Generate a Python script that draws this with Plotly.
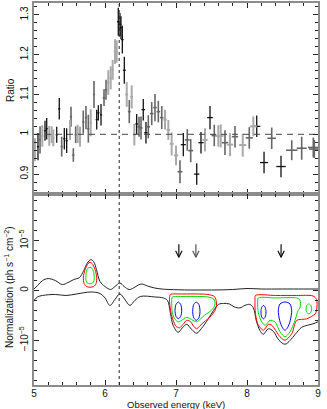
import plotly.graph_objects as go
from plotly.subplots import make_subplots

# ---- top panel: data/model ratio (energy keV, ratio, 1-sigma, half bin width, shade)
energy = [5.014, 5.056, 5.085, 5.117, 5.155, 5.179, 5.215, 5.249, 5.272, 5.32,
          5.356, 5.39, 5.427, 5.46, 5.507, 5.521, 5.554, 5.587, 5.615, 5.648,
          5.694, 5.732, 5.765, 5.799, 5.845, 5.883, 5.906, 5.944, 5.986, 6.014,
          6.046, 6.08, 6.108, 6.141, 6.165, 6.187, 6.211, 6.225, 6.244, 6.272,
          6.306, 6.342, 6.376, 6.413, 6.446, 6.479, 6.507, 6.539, 6.577, 6.61,
          6.658, 6.704, 6.751, 6.799, 6.845, 6.892, 6.939, 7.0, 7.056, 7.103,
          7.159, 7.207, 7.292, 7.352, 7.408, 7.479, 7.539, 7.596, 7.63, 7.69,
          7.761, 7.831, 7.94, 8.032, 8.089, 8.137, 8.24, 8.348, 8.479, 8.63,
          8.77, 8.934, 8.948]
ratio = [0.961, 0.969, 0.986, 0.996, 1.009, 1.014, 0.996, 0.999, 0.991, 0.999,
         1.064, 0.969, 0.989, 0.984, 1.011, 1.044, 0.948, 0.999, 1.001, 0.994,
         1.031, 1.042, 1.014, 1.029, 1.100, 1.037, 1.054, 1.049, 1.092, 1.112,
         1.130, 1.142, 1.162, 1.208, 1.208, 1.283, 1.276, 1.268, 1.238, 1.161,
         1.100, 1.057, 1.094, 0.999, 1.026, 1.019, 1.016, 1.062, 1.004, 1.019,
         1.052, 1.067, 1.057, 1.042, 1.037, 1.011, 0.976, 0.947, 0.906, 0.974,
         0.986, 0.959, 0.900, 0.979, 0.986, 1.042, 0.997, 0.996, 0.996, 0.979,
         0.974, 0.994, 0.973, 0.991, 1.020, 1.020, 0.929, 0.990, 0.919, 0.960,
         0.965, 0.967, 0.963]
ratio_err = [0.029, 0.034, 0.034, 0.027, 0.025, 0.027, 0.025, 0.021, 0.021, 0.020,
             0.027, 0.025, 0.027, 0.031, 0.025, 0.025, 0.017, 0.021, 0.023, 0.025,
             0.029, 0.029, 0.035, 0.034, 0.034, 0.025, 0.019, 0.027, 0.021, 0.025,
             0.031, 0.029, 0.025, 0.031, 0.028, 0.035, 0.029, 0.029, 0.035, 0.034,
             0.031, 0.029, 0.029, 0.027, 0.025, 0.025, 0.029, 0.027, 0.027, 0.029,
             0.029, 0.034, 0.027, 0.029, 0.025, 0.025, 0.029, 0.025, 0.029, 0.029,
             0.027, 0.029, 0.027, 0.027, 0.029, 0.029, 0.027, 0.027, 0.029, 0.031,
             0.029, 0.027, 0.029, 0.027, 0.025, 0.027, 0.027, 0.027, 0.027, 0.025,
             0.029, 0.025, 0.023]
bin_half = [0.015, 0.015, 0.015, 0.015, 0.015, 0.015, 0.015, 0.015, 0.015, 0.015,
            0.015, 0.015, 0.015, 0.015, 0.015, 0.015, 0.015, 0.015, 0.015, 0.015,
            0.015, 0.015, 0.015, 0.015, 0.015, 0.015, 0.015, 0.015, 0.018, 0.018,
            0.018, 0.018, 0.018, 0.018, 0.018, 0.018, 0.018, 0.018, 0.018, 0.02,
            0.02, 0.02, 0.02, 0.02, 0.02, 0.022, 0.022, 0.025, 0.025, 0.025,
            0.025, 0.025, 0.025, 0.025, 0.025, 0.025, 0.028, 0.03, 0.035, 0.035,
            0.035, 0.035, 0.037, 0.037, 0.037, 0.04, 0.04, 0.04, 0.04, 0.045,
            0.045, 0.045, 0.05, 0.05, 0.05, 0.05, 0.057, 0.06, 0.066, 0.08,
            0.07, 0.075, 0.075]
shade = list("lkmlkklllkkmkklmmmllmmmlmkkkmmlllllkkkkklmllkmmkkmmmmmllllmkmmkklkmllml"
             "mlmlkkmkmmmm")

# ---- bottom panel: confidence contours, normalization in units of 1e-5 ph/s/cm2
upper_e = [5.0, 5.05, 5.12, 5.2, 5.3, 5.4, 5.48, 5.56, 5.64, 5.7, 5.75, 5.8, 5.84,
           5.88, 5.93, 6.0, 6.08, 6.14, 6.21, 6.27, 6.34, 6.4, 6.47, 6.52, 6.6,
           6.7, 6.8, 6.9, 7.2, 7.5, 7.8, 8.0, 8.2, 8.5, 8.8, 9.0]
upper_n = [0.03, 0.1, 0.2, 0.24, 0.2, 0.12, 0.16, 0.22, 0.26, 0.4, 0.55, 0.62, 0.58,
           0.42, 0.18, 0.08, 0.02, 0.08, 0.15, 0.08, 0.02, 0.05, 0.11, 0.13, 0.09,
           0.05, 0.03, 0.02, 0.01, 0.01, 0.02, 0.04, 0.03, 0.03, 0.03, 0.03]
lower_e = [5.0, 5.05, 5.12, 5.3, 5.45, 5.6, 5.8, 5.93, 6.0, 6.07, 6.14, 6.21, 6.28,
           6.35, 6.42, 6.5, 6.7, 6.82, 6.88, 6.92, 6.96, 7.03, 7.09, 7.15, 7.22,
           7.29, 7.36, 7.45, 7.53, 7.6, 7.67, 7.75, 7.82, 7.9, 7.97, 8.04, 8.09,
           8.13, 8.18, 8.23, 8.3, 8.37, 8.45, 8.535, 8.61, 8.68, 8.77, 8.85, 8.93, 9.0]
lower_n = [-0.2, -0.13, -0.1, -0.08, -0.1, -0.07, -0.03, -0.06, -0.15, -0.3, -0.18,
           -0.07, -0.18, -0.3, -0.2, -0.12, -0.13, -0.15, -0.2, -0.45, -0.7, -0.84,
           -0.75, -0.68, -0.78, -0.86, -0.76, -0.58, -0.4, -0.28, -0.26, -0.27, -0.33,
           -0.35, -0.3, -0.28, -0.35, -0.6, -0.8, -0.88, -0.77, -0.82, -1.0, -1.08,
           -1.0, -0.88, -0.74, -0.7, -0.67, -0.63]

red_contours = [
    ([5.789, 5.82, 5.86, 5.883, 5.875, 5.84, 5.789, 5.74, 5.705, 5.695, 5.72, 5.76, 5.789],
     [0.566, 0.54, 0.42, 0.27, 0.14, 0.08, 0.066, 0.08, 0.14, 0.27, 0.42, 0.54, 0.566]),
    ([6.92, 7.1, 7.3, 7.45, 7.54, 7.565, 7.57, 7.55, 7.5, 7.45, 7.38, 7.33, 7.29, 7.25,
      7.2, 7.15, 7.1, 7.05, 7.0, 6.96, 6.93, 6.91, 6.91, 6.92],
     [-0.08, -0.07, -0.07, -0.08, -0.12, -0.2, -0.3, -0.4, -0.5, -0.57, -0.65, -0.72,
      -0.77, -0.72, -0.62, -0.6, -0.68, -0.75, -0.72, -0.6, -0.45, -0.25, -0.12, -0.08]),
    ([8.12, 8.4, 8.7, 8.93, 8.98, 8.98, 8.96, 8.84, 8.7, 8.63, 8.535, 8.465, 8.35,
      8.3, 8.23, 8.15, 8.115, 8.113, 8.12],
     [-0.1, -0.1, -0.1, -0.11, -0.18, -0.4, -0.47, -0.57, -0.6, -0.87, -1.0, -0.93,
      -0.7, -0.68, -0.8, -0.67, -0.4, -0.2, -0.1]),
]
green_contours = [
    ([5.789, 5.82, 5.845, 5.845, 5.82, 5.789, 5.755, 5.733, 5.733, 5.755, 5.789],
     [0.466, 0.44, 0.33, 0.2, 0.145, 0.134, 0.145, 0.2, 0.33, 0.44, 0.466]),
    ([6.95, 7.1, 7.3, 7.45, 7.53, 7.55, 7.53, 7.47, 7.4, 7.34, 7.29, 7.24, 7.15, 7.08,
      7.03, 6.98, 6.95, 6.94, 6.94, 6.95],
     [-0.13, -0.12, -0.12, -0.13, -0.17, -0.25, -0.35, -0.43, -0.5, -0.58, -0.63,
      -0.6, -0.54, -0.6, -0.63, -0.57, -0.45, -0.3, -0.18, -0.13]),
    ([8.16, 8.4, 8.7, 8.745, 8.746, 8.72, 8.676, 8.606, 8.535, 8.465, 8.394, 8.324,
      8.254, 8.207, 8.16, 8.15, 8.16],
     [-0.15, -0.15, -0.15, -0.19, -0.35, -0.4, -0.6, -0.83, -0.93, -0.83, -0.63, -0.6,
      -0.7, -0.63, -0.45, -0.25, -0.15]),
    ([8.871, 8.9, 8.911, 8.9, 8.871, 8.842, 8.831, 8.842, 8.871],
     [-0.27, -0.3, -0.37, -0.44, -0.47, -0.44, -0.37, -0.3, -0.27]),
]
blue_contours = [
    ([7.033, 7.066, 7.08, 7.066, 7.033, 7.0, 6.986, 7.0, 7.033],
     [-0.234, -0.28, -0.4, -0.52, -0.566, -0.52, -0.4, -0.28, -0.234]),
    ([7.286, 7.322, 7.338, 7.322, 7.286, 7.25, 7.235, 7.25, 7.286],
     [-0.234, -0.28, -0.42, -0.55, -0.6, -0.55, -0.42, -0.28, -0.234]),
    ([8.232, 8.257, 8.268, 8.257, 8.232, 8.207, 8.197, 8.207, 8.232],
     [-0.3, -0.34, -0.43, -0.53, -0.57, -0.53, -0.43, -0.34, -0.3]),
    ([8.535, 8.605, 8.629, 8.61, 8.57, 8.535, 8.5, 8.46, 8.441, 8.465, 8.535],
     [-0.23, -0.27, -0.4, -0.6, -0.75, -0.8, -0.75, -0.6, -0.4, -0.27, -0.23]),
]

arrow_e = [7.04, 7.28, 8.48]
arrow_color = ["#111111", "#555555", "#111111"]
arrow_top, arrow_tip = 0.93, 0.67

line_e = 6.2
font = "Liberation Sans, Arial, Helvetica, sans-serif"
shade_style = {"k": ("#111111", 1.3), "m": ("#666666", 1.6), "l": ("#aaaaaa", 2.0)}

fig = make_subplots(rows=2, cols=1, shared_xaxes=True, vertical_spacing=0)

for key, (col, w) in shade_style.items():
    idx = [i for i, s in enumerate(shade) if s == key]
    fig.add_trace(
        go.Scatter(
            x=[energy[i] for i in idx],
            y=[ratio[i] for i in idx],
            mode="markers",
            marker=dict(size=0.1, color=col),
            error_y=dict(type="data", array=[ratio_err[i] for i in idx],
                         color=col, thickness=w, width=0),
            error_x=dict(type="data", array=[bin_half[i] for i in idx],
                         color=col, thickness=w, width=0),
            showlegend=False,
        ),
        row=1, col=1,
    )

fig.add_trace(go.Scatter(x=[5, 9], y=[1, 1], mode="lines",
                         line=dict(color="#444444", width=1, dash="6px,5px"),
                         showlegend=False), row=1, col=1)

for xs, ys in [(upper_e, upper_n), (lower_e, lower_n)]:
    fig.add_trace(go.Scatter(x=xs, y=ys, mode="lines",
                             line=dict(color="#222222", width=1, shape="spline"),
                             showlegend=False), row=2, col=1)

for group, col in [(red_contours, "#ff0000"), (green_contours, "#00dd00"),
                   (blue_contours, "#0000ff")]:
    for xs, ys in group:
        fig.add_trace(go.Scatter(x=xs, y=ys, mode="lines",
                                 line=dict(color=col, width=1, shape="spline",
                                           smoothing=0.8),
                                 showlegend=False), row=2, col=1)

for e, col in zip(arrow_e, arrow_color):
    head = arrow_tip + 0.13
    fig.add_trace(go.Scatter(
        x=[e, e, None, e - 0.045, e, e + 0.045],
        y=[arrow_top, arrow_tip, None, head, arrow_tip, head],
        mode="lines", line=dict(color=col, width=1.2), showlegend=False),
        row=2, col=1)

fig.add_shape(type="line", x0=line_e, x1=line_e, y0=0, y1=1, xref="x", yref="paper",
              line=dict(color="#222222", width=1, dash="dot"))

axis_common = dict(
    showline=True, linecolor="#8c8c8c", linewidth=1.5, mirror="allticks",
    ticks="inside", ticklen=5, tickcolor="#222222", tickwidth=1,
    showgrid=False, zeroline=False, automargin=False,
    tickfont=dict(family=font, size=10, color="#111111"),
)
fig.update_xaxes(range=[5, 9], tickvals=[5, 6, 7, 8, 9], ticklabelstandoff=-2,
                 minor=dict(dtick=0.2, tick0=5, ticklen=3, ticks="inside",
                            tickcolor="#222222"),
                 **axis_common)
fig.update_xaxes(showticklabels=False, row=1, col=1)
fig.update_yaxes(range=[0.85, 1.33], tickvals=[0.9, 1, 1.1, 1.2, 1.3],
                 ticktext=["0.9", "1", "1.1", "1.2", "1.3"], tickangle=-90,
                 ticklabelstandoff=0,
                 minor=dict(dtick=0.02, tick0=0.9, ticklen=3, ticks="inside",
                            tickcolor="#222222"),
                 row=1, col=1, **axis_common)
fig.update_yaxes(range=[-1.9, 1.94], tickvals=[-1, 0, 1],
                 ticktext=["\u221210<sup>\u22125</sup>", "0", "10<sup>\u22125</sup>"],
                 tickangle=-90, ticklabelstandoff=0,
                 minor=dict(dtick=0.2, tick0=0, ticklen=3, ticks="inside",
                            tickcolor="#222222"),
                 row=2, col=1, **axis_common)

fig.update_layout(
    width=327, height=409,
    margin=dict(l=34, r=9, t=3, b=24),
    paper_bgcolor="white", plot_bgcolor="white",
    font=dict(family=font, size=10, color="#111111"),
    annotations=[
        dict(text="Ratio", x=-0.085, y=0.772, xref="paper", yref="paper",
             xanchor="center", yanchor="middle",
             textangle=-90, showarrow=False, font=dict(size=10)),
        dict(text="Normalization (ph s<sup>\u22121</sup> cm<sup>\u22122</sup>)",
             x=-0.088, y=0.2565, xref="paper", yref="paper",
             xanchor="center", yanchor="middle",
             textangle=-90, showarrow=False, font=dict(size=10)),
        dict(text="Observed energy (keV)", x=0.5, y=-0.0505, xref="paper",
             yref="paper", yanchor="middle", showarrow=False, font=dict(size=9.5)),
    ],
)

fig.write_html("out.html", config={"displayModeBar": False},
               post_script="document.body.style.margin='0';"
                           "document.body.style.overflow='hidden';")
